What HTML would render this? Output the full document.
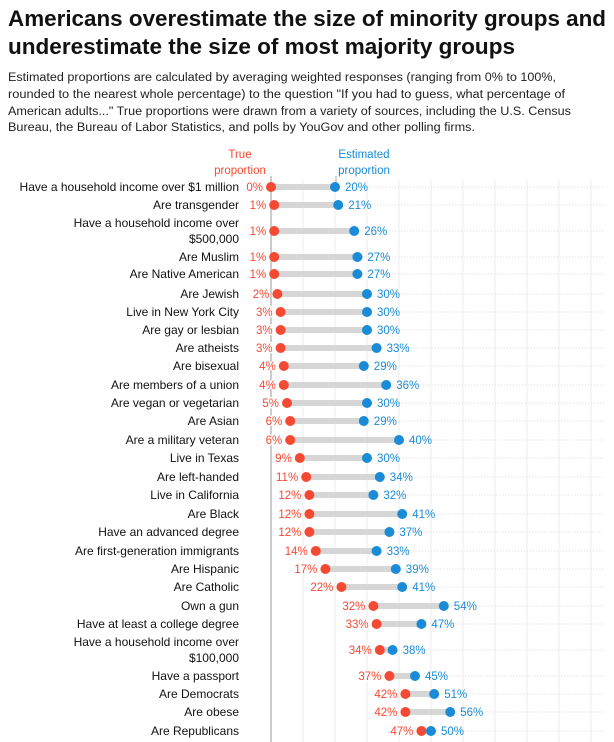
<!DOCTYPE html>
<html><head><meta charset="utf-8"><style>
body{margin:0;background:#fff;width:614px;height:742px;overflow:hidden}
svg{display:block;font-family:"Liberation Sans",sans-serif}
</style></head><body>
<svg width="614" height="742" viewBox="0 0 614 742">
<text x="8" y="26" font-size="22" font-weight="bold" fill="#111" textLength="598" lengthAdjust="spacingAndGlyphs">Americans overestimate the size of minority groups and</text>
<text x="8" y="54" font-size="22" font-weight="bold" fill="#111" textLength="507" lengthAdjust="spacingAndGlyphs">underestimate the size of most majority groups</text>
<g font-size="11.5" fill="#222">
<text x="8" y="81" textLength="548" lengthAdjust="spacingAndGlyphs">Estimated proportions are calculated by averaging weighted responses (ranging from 0% to 100%,</text>
<text x="8" y="98" textLength="557" lengthAdjust="spacingAndGlyphs">rounded to the nearest whole percentage) to the question "If you had to guess, what percentage of</text>
<text x="8" y="115" textLength="563" lengthAdjust="spacingAndGlyphs">American adults..." True proportions were drawn from a variety of sources, including the U.S. Census</text>
<text x="8" y="131" textLength="467" lengthAdjust="spacingAndGlyphs">Bureau, the Bureau of Labor Statistics, and polls by YouGov and other polling firms.</text>
</g>
<g font-size="11.5" text-anchor="middle">
<text x="240" y="158" fill="#f44a33">True</text>
<text x="240" y="174" fill="#f44a33">proportion</text>
<text x="364" y="158" fill="#1a8bd6">Estimated</text>
<text x="364" y="174" fill="#1a8bd6">proportion</text>
</g>
<line x1="336" y1="176" x2="336" y2="184" stroke="#999" stroke-width="0.8"/>
<g id="grid" stroke="#ececec" stroke-width="1"></g>
<line x1="271" y1="176" x2="271" y2="742" stroke="#999" stroke-width="1"/>
<g id="rows"></g>
</svg>
<script>
var X=function(v){return 271+v*3.2};
var g=document.getElementById('grid'),r=document.getElementById('rows'),s='';
for(var k=1;k<=10;k++){var x=271+k*32;s+='<line x1="'+x+'" y1="180" x2="'+x+'" y2="742"/>';}
g.innerHTML=s;
var d=[["Have a household income over $1 million",0,20,187],["Are transgender",1,21,205],["Have a household income over|$500,000",1,26,231],["Are Muslim",1,27,257],["Are Native American",1,27,274],["Are Jewish",2,30,294],["Live in New York City",3,30,312],["Are gay or lesbian",3,30,330],["Are atheists",3,33,348],["Are bisexual",4,29,366],["Are members of a union",4,36,385],["Are vegan or vegetarian",5,30,403],["Are Asian",6,29,421],["Are a military veteran",6,40,440],["Live in Texas",9,30,458],["Are left-handed",11,34,477],["Live in California",12,32,495],["Are Black",12,41,514],["Have an advanced degree",12,37,532],["Are first-generation immigrants",14,33,551],["Are Hispanic",17,39,569],["Are Catholic",22,41,587],["Own a gun",32,54,606],["Have at least a college degree",33,47,624],["Have a household income over|$100,000",34,38,650],["Have a passport",37,45,676],["Are Democrats",42,51,694],["Are obese",42,56,712],["Are Republicans",47,50,731]];
s='';
d.forEach(function(e){var y=e[3],a=X(e[1]),b=X(e[2]);
s+='<line x1="'+(a-8)+'" y1="'+y+'" x2="604" y2="'+y+'" stroke="#ccc" stroke-width="0.8" stroke-dasharray="1,2"/>';
var L=e[0].split('|');
if(L.length==1)s+='<text x="239" y="'+(y+4)+'" font-size="12" text-anchor="end" fill="#111">'+L[0].replace('$','&#36;')+'</text>';
else{s+='<text x="239" y="'+(y-4)+'" font-size="12" text-anchor="end" fill="#111">'+L[0]+'</text><text x="239" y="'+(y+12)+'" font-size="12" text-anchor="end" fill="#111">'+L[1]+'</text>';}
s+='<line x1="'+a+'" y1="'+y+'" x2="'+b+'" y2="'+y+'" stroke="#d6d6d6" stroke-width="6"/>';
s+='<circle cx="'+a+'" cy="'+y+'" r="5" fill="#f44a33"/><circle cx="'+b+'" cy="'+y+'" r="5" fill="#1a8bd6"/>';
s+='<text x="'+(a-8)+'" y="'+(y+4)+'" font-size="11.5" text-anchor="end" fill="#f44a33" stroke="#fff" stroke-width="3" paint-order="stroke">'+e[1]+'%</text>';
s+='<text x="'+(b+10)+'" y="'+(y+4)+'" font-size="11.5" fill="#1a8bd6">'+e[2]+'%</text>';});
r.innerHTML=s;
</script>
</body></html>
